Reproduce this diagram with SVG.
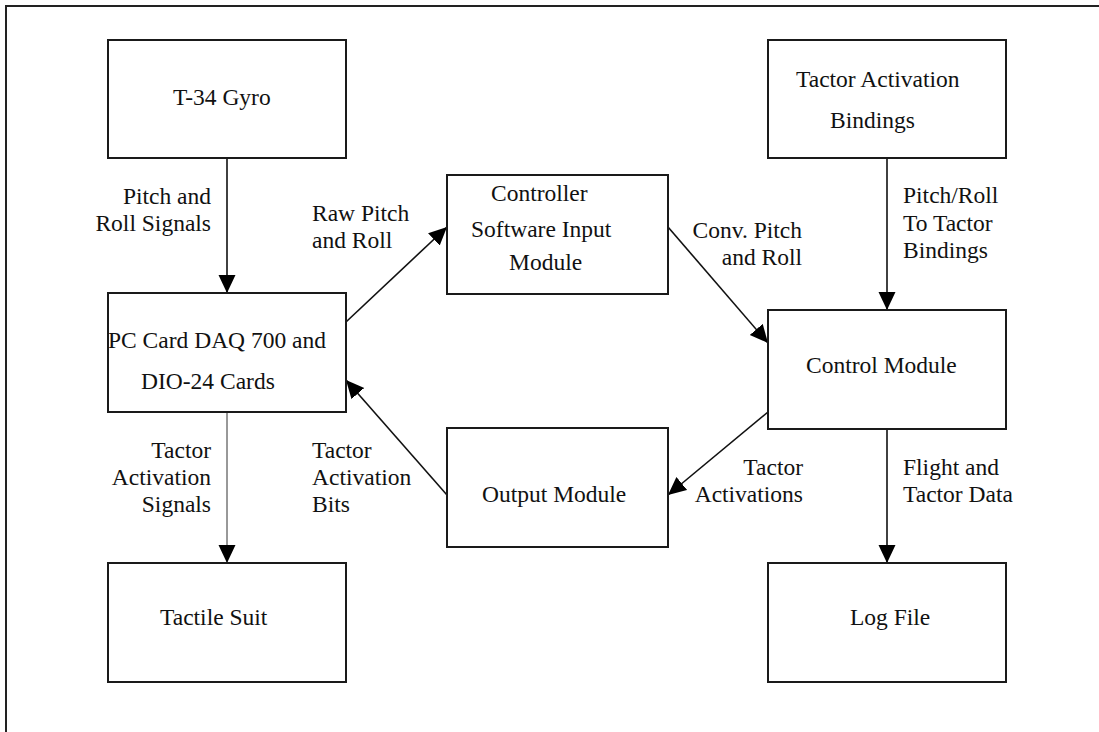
<svg xmlns="http://www.w3.org/2000/svg" width="1099" height="732" viewBox="0 0 1099 732">
<style>
.box{fill:#fff;stroke:#1a1a1a;stroke-width:2}
.t{font-family:"Liberation Serif","Times New Roman",serif;font-size:23.5px;fill:#111}
.e{text-anchor:end}
.c{stroke:#111;stroke-width:1.6;fill:none;marker-end:url(#ah)}
.thin{stroke:#333;stroke-width:1}
</style>
<defs>
<marker id="ah" markerUnits="userSpaceOnUse" markerWidth="20" markerHeight="20" refX="18" refY="8.5" orient="auto">
<path d="M0,0 L18,8.5 L0,17 z" fill="#000"/>
</marker>
</defs>
<rect width="1099" height="732" fill="#fff"/>
<path d="M6,732 V6 H1099" fill="none" stroke="#222" stroke-width="2"/>
<g id="connectors">
<line class="c" x1="227" y1="158" x2="227" y2="293"/>
<line class="c" x1="346" y1="322" x2="447" y2="227"/>
<line class="c" x1="668" y1="227" x2="768" y2="343"/>
<line class="c" x1="887" y1="158" x2="887" y2="310"/>
<line class="c" x1="768" y1="412" x2="668" y2="495"/>
<line class="c" x1="447" y1="495" x2="346" y2="380"/>
<line class="c thin" x1="227" y1="412" x2="227" y2="563"/>
<line class="c" x1="887" y1="429" x2="887" y2="563"/>
<text class="t e" x="211" y="204">Pitch and</text>
<text class="t e" x="211" y="231">Roll Signals</text>
<text class="t" x="312" y="221">Raw Pitch</text>
<text class="t" x="312" y="248">and Roll</text>
<text class="t e" x="802" y="238">Conv. Pitch</text>
<text class="t e" x="802" y="265">and Roll</text>
<text class="t" x="903" y="203">Pitch/Roll</text>
<text class="t" x="903" y="231">To Tactor</text>
<text class="t" x="903" y="258">Bindings</text>
<text class="t e" x="211" y="458">Tactor</text>
<text class="t e" x="211" y="485">Activation</text>
<text class="t e" x="211" y="512">Signals</text>
<text class="t" x="312" y="458">Tactor</text>
<text class="t" x="312" y="485">Activation</text>
<text class="t" x="312" y="512">Bits</text>
<text class="t e" x="803" y="475">Tactor</text>
<text class="t e" x="803" y="502">Activations</text>
<text class="t" x="903" y="475">Flight and</text>
<text class="t" x="903" y="502">Tactor Data</text>
</g>
<g id="gyro">
<rect class="box" x="108" y="40" width="238" height="118"/>
<text class="t" x="173" y="105">T-34 Gyro</text>
</g>
<g id="bindings">
<rect class="box" x="768" y="40" width="238" height="118"/>
<text class="t" x="796" y="87">Tactor Activation</text>
<text class="t" x="830" y="128">Bindings</text>
</g>
<g id="controller">
<rect class="box" x="447" y="175" width="221" height="119"/>
<text class="t" x="491" y="201">Controller</text>
<text class="t" x="471" y="237">Software Input</text>
<text class="t" x="509" y="270">Module</text>
</g>
<g id="pccard">
<rect class="box" x="108" y="293" width="238" height="119"/>
<text class="t" x="108" y="348">PC Card DAQ 700 and</text>
<text class="t" x="141" y="389">DIO-24 Cards</text>
</g>
<g id="control">
<rect class="box" x="768" y="310" width="238" height="119"/>
<text class="t" x="806" y="373">Control Module</text>
</g>
<g id="output">
<rect class="box" x="447" y="428" width="221" height="119"/>
<text class="t" x="482" y="502">Output Module</text>
</g>
<g id="suit">
<rect class="box" x="108" y="563" width="238" height="119"/>
<text class="t" x="160" y="625">Tactile Suit</text>
</g>
<g id="log">
<rect class="box" x="768" y="563" width="238" height="119"/>
<text class="t" x="850" y="625">Log File</text>
</g>
</svg>
